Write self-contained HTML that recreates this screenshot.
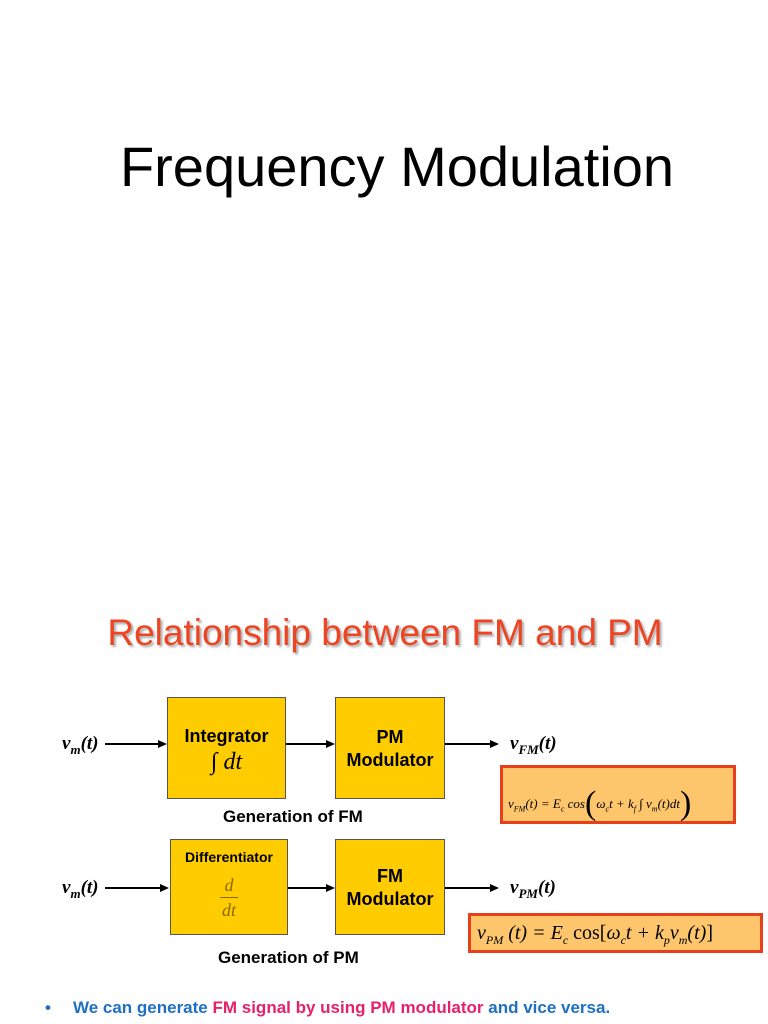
<!DOCTYPE html>
<html><head><meta charset="utf-8"><style>
body{margin:0;width:768px;height:1024px;background:#fff;position:relative;overflow:hidden;font-family:"Liberation Sans",sans-serif}
.a{position:absolute}
.box{position:absolute;background:#FFCC00;border:1px solid #555;box-sizing:border-box;text-align:center;font-weight:bold;font-size:18px;color:#000}
.ser{font-family:"Liberation Serif",serif;font-style:italic}
.ln{position:absolute;height:2px;background:#000}
.ah{position:absolute;width:0;height:0;border-left:9px solid #000;border-top:4px solid transparent;border-bottom:4px solid transparent}
.lab{position:absolute;font-family:"Liberation Serif",serif;font-style:italic;font-weight:bold;font-size:19px}
.lab sub{font-size:13px}
.gen{position:absolute;font-weight:bold;font-size:17px}
.fb{position:absolute;background:#FDC56C;border:3px solid #E8401C;box-sizing:border-box;font-family:"Liberation Serif",serif;font-style:italic;white-space:nowrap}
</style></head><body>
<div class="a" style="left:0;width:794px;top:134px;text-align:center;font-size:56px;color:#000">Frequency Modulation</div>
<div class="a" style="left:0;width:770px;top:612px;text-align:center;font-size:37px;color:#EE4422;text-shadow:2px 2px 2px #aaa">Relationship between FM and PM</div>

<div class="lab" style="left:62px;top:733px">v<sub>m</sub>(t)</div>
<div class="ln" style="left:105px;top:743px;width:55px"></div><div class="ah" style="left:158px;top:740px"></div>
<div class="box" style="left:167px;top:697px;width:119px;height:102px;padding-top:28px">Integrator<div class="ser" style="font-weight:normal;font-size:24px;margin-top:2px">∫ dt</div></div>
<div class="ln" style="left:286px;top:743px;width:42px"></div><div class="ah" style="left:326px;top:740px"></div>
<div class="box" style="left:335px;top:697px;width:110px;height:102px;padding-top:28px;line-height:23px">PM<br>Modulator</div>
<div class="ln" style="left:445px;top:743px;width:47px"></div><div class="ah" style="left:490px;top:740px"></div>
<div class="lab" style="left:510px;top:733px">v<sub>FM</sub>(t)</div>
<div class="fb" style="left:500px;top:765px;width:236px;height:59px;font-size:13px;padding:17px 0 0 5px">v<sub style="font-size:8px">FM</sub>(t) = E<sub style="font-size:8px">c</sub> cos<span style="font-size:34px;font-style:normal;vertical-align:-6px">(</span>ω<sub style="font-size:8px">c</sub>t + k<sub style="font-size:8px">f</sub> ∫ v<sub style="font-size:8px">m</sub>(t)dt<span style="font-size:34px;font-style:normal;vertical-align:-6px">)</span></div>
<div class="gen" style="left:223px;top:807px">Generation of FM</div>

<div class="lab" style="left:62px;top:877px">v<sub>m</sub>(t)</div>
<div class="ln" style="left:105px;top:887px;width:57px"></div><div class="ah" style="left:160px;top:884px"></div>
<div class="box" style="left:170px;top:839px;width:118px;height:96px;padding-top:9px;font-size:14px">Differentiator<div class="ser" style="font-weight:normal;font-size:18px;color:#8a6a00;margin-top:10px;line-height:20px">d<div style="width:18px;height:1px;background:#8a6a00;margin:2px auto"></div>dt</div></div>
<div class="ln" style="left:288px;top:887px;width:40px"></div><div class="ah" style="left:326px;top:884px"></div>
<div class="box" style="left:335px;top:839px;width:110px;height:96px;padding-top:25px;line-height:23px">FM<br>Modulator</div>
<div class="ln" style="left:445px;top:887px;width:47px"></div><div class="ah" style="left:490px;top:884px"></div>
<div class="lab" style="left:510px;top:877px">v<sub>PM</sub>(t)</div>
<div class="fb" style="left:468px;top:913px;width:295px;height:40px;font-size:20px;padding:6px 0 0 6px">v<sub style="font-size:12px">PM</sub> (t) = E<sub style="font-size:12px">c</sub> <span style="font-style:normal">cos[</span>ω<sub style="font-size:12px">c</sub>t + k<sub style="font-size:12px">p</sub>v<sub style="font-size:12px">m</sub>(t)<span style="font-style:normal">]</span></div>
<div class="gen" style="left:218px;top:948px">Generation of PM</div>

<div class="a" style="left:45px;top:998px;font-size:17px;font-weight:bold;color:#1F6FC5">•<span style="margin-left:22px">We can generate </span><span style="color:#E8206A">FM signal by using PM modulator</span> and vice versa.</div>
</body></html>
